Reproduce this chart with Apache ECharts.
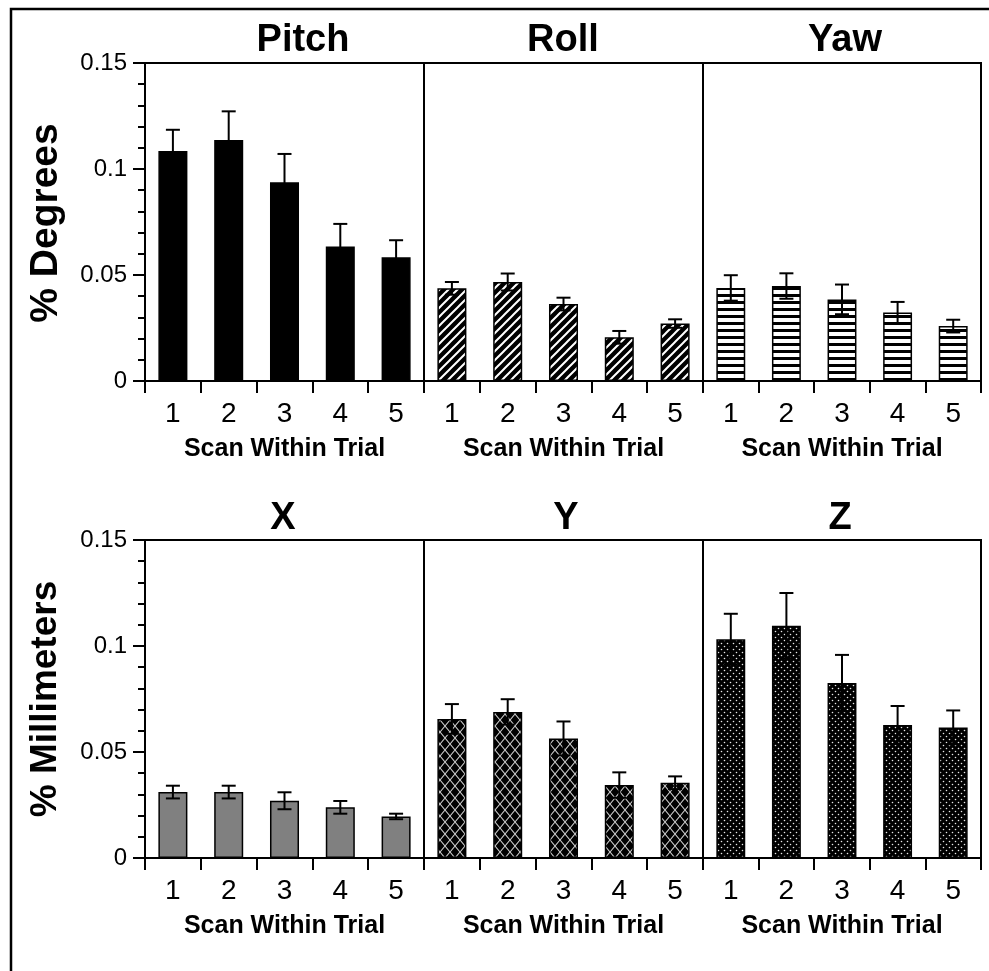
<!DOCTYPE html>
<html>
<head>
<meta charset="utf-8">
<script src="https://cdn.jsdelivr.net/npm/echarts@6/dist/echarts.min.js"></script>
<style>
    html, body { margin: 0; padding: 0; background: #fff; }
    #main { width: 989px; height: 971px; }
</style>
</head>
<body>
<div id="main"></div>
<script>
// 数据
var scans = ['1', '2', '3', '4', '5'];
var yTicks = [0, 0.05, 0.1, 0.15];

var pitchMean = [0.1085, 0.1137, 0.0937, 0.0635, 0.0584];
var pitchErr = [0.0100, 0.0135, 0.0134, 0.0106, 0.0080];
var rollMean = [0.0437, 0.0467, 0.0363, 0.0206, 0.0271];
var rollErr = [0.0030, 0.0040, 0.0030, 0.0030, 0.0020];
var yawMean = [0.0439, 0.0448, 0.0385, 0.0323, 0.0259];
var yawErr = [0.0060, 0.0060, 0.0070, 0.0050, 0.0030];
var xMean = [0.0311, 0.0311, 0.0270, 0.0239, 0.0196];
var xErr = [0.0030, 0.0030, 0.0040, 0.0030, 0.0013];
var yMean = [0.0656, 0.0689, 0.0564, 0.0344, 0.0355];
var yErr = [0.0070, 0.0060, 0.0080, 0.0060, 0.0030];
var zMean = [0.1032, 0.1095, 0.0825, 0.0627, 0.0616];
var zErr = [0.0120, 0.0155, 0.0133, 0.0090, 0.0080];

(function () {
    var FONT = '"Liberation Sans", Arial, Helvetica, sans-serif';

    // 小画布当填充图案
    function tile(w, h, draw) {
        var c = document.createElement('canvas');
        c.width = w;
        c.height = h;
        draw(c.getContext('2d'), w, h);
        return c;
    }
    // 斜线
    var hatch = tile(9, 9, function (ctx, w, h) {
        ctx.fillStyle = '#000';
        ctx.fillRect(0, 0, w, h);
        ctx.strokeStyle = '#fff';
        ctx.lineWidth = 2;
        ctx.beginPath();
        ctx.moveTo(-1, h + 1); ctx.lineTo(w + 1, -1);
        ctx.moveTo(-2, 2); ctx.lineTo(2, -2);
        ctx.moveTo(w - 2, h + 2); ctx.lineTo(w + 2, h - 2);
        ctx.stroke();
    });
    // 横线
    var stripes = tile(4, 7, function (ctx, w, h) {
        ctx.fillStyle = '#fff';
        ctx.fillRect(0, 0, w, h);
        ctx.fillStyle = '#000';
        ctx.fillRect(0, 0, w, 3);
    });
    // 网纹
    var weave = tile(10, 12, function (ctx, w, h) {
        ctx.fillStyle = '#000';
        ctx.fillRect(0, 0, w, h);
        ctx.strokeStyle = '#ccc';
        ctx.lineWidth = 1.1;
        ctx.beginPath();
        ctx.moveTo(0, 0); ctx.lineTo(w, h);
        ctx.moveTo(w, 0); ctx.lineTo(0, h);
        ctx.stroke();
    });
    // 点
    var dots = tile(6, 6, function (ctx, w, h) {
        ctx.fillStyle = '#000';
        ctx.fillRect(0, 0, w, h);
        ctx.fillStyle = '#e8e8e8';
        ctx.beginPath();
        ctx.arc(1.5, 1.5, 0.8, 0, Math.PI * 2);
        ctx.arc(4.5, 4.5, 0.8, 0, Math.PI * 2);
        ctx.fill();
    });

    var panels = [
        {name: 'Pitch', mean: pitchMean, err: pitchErr, fill: '#000', tx: 303},
        {name: 'Roll', mean: rollMean, err: rollErr, fill: {image: hatch, repeat: 'repeat'}, tx: 563},
        {name: 'Yaw', mean: yawMean, err: yawErr, fill: {image: stripes, repeat: 'repeat'}, tx: 845},
        {name: 'X', mean: xMean, err: xErr, fill: '#808080', tx: 283},
        {name: 'Y', mean: yMean, err: yErr, fill: {image: weave, repeat: 'repeat'}, tx: 566},
        {name: 'Z', mean: zMean, err: zErr, fill: {image: dots, repeat: 'repeat'}, tx: 840}
    ];
    var lefts = [145, 424, 703];
    var widths = [279, 279, 278];
    var tops = [63, 540];

    var grid = [], xAxis = [], yAxis = [], series = [];
    var graphic = [{
        type: 'rect', silent: true,
        shape: {x: 11, y: 9, width: 1100, height: 1100},
        style: {fill: null, stroke: '#000', lineWidth: 2.5}
    }];

    panels.forEach(function (p, i) {
        var col = i % 3, row = Math.floor(i / 3);
        var first = col === 0;
        grid.push({
            left: lefts[col], top: tops[row], width: widths[col], height: 318,
            show: true, borderColor: '#000', borderWidth: 2
        });
        xAxis.push({
            type: 'category', gridIndex: i, data: scans,
            axisLine: {lineStyle: {color: '#000', width: 2}},
            axisTick: {show: true, alignWithLabel: false, length: 12, lineStyle: {color: '#000', width: 2}},
            axisLabel: {color: '#000', fontSize: 28, fontFamily: FONT, margin: 19},
            name: 'Scan Within Trial', nameLocation: 'middle', nameGap: 56,
            nameTextStyle: {color: '#000', fontSize: 25, fontWeight: 'bold', fontFamily: FONT}
        });
        yAxis.push({
            type: 'value', gridIndex: i,
            min: yTicks[0], max: yTicks[yTicks.length - 1], interval: 0.05,
            splitLine: {show: false},
            axisLine: {show: true, lineStyle: {color: '#000', width: 2}},
            axisTick: {show: first, length: 12, lineStyle: {color: '#000', width: 2}},
            minorTick: {show: first, splitNumber: 5, length: 7, lineStyle: {color: '#000', width: 2}},
            axisLabel: {show: first, color: '#000', fontSize: 24, fontFamily: FONT, margin: 18}
        });
        series.push({
            type: 'bar', xAxisIndex: i, yAxisIndex: i,
            barWidth: '52%', data: p.mean,
            itemStyle: {color: p.fill, borderColor: '#000', borderWidth: 1.5}
        });
        // 误差线
        series.push({
            type: 'custom', xAxisIndex: i, yAxisIndex: i, z: 5,
            data: p.mean.map(function (v, k) { return [k, v, p.err[k]]; }),
            renderItem: function (params, api) {
                var k = api.value(0), v = api.value(1), e = api.value(2);
                var hi = api.coord([k, v + e]);
                var lo = api.coord([k, v - e]);
                var hw = 7;
                var st = {stroke: '#000', lineWidth: 2};
                return {
                    type: 'group',
                    children: [
                        {type: 'line', shape: {x1: hi[0], y1: hi[1], x2: lo[0], y2: lo[1]}, style: st},
                        {type: 'line', shape: {x1: hi[0] - hw, y1: hi[1], x2: hi[0] + hw, y2: hi[1]}, style: st},
                        {type: 'line', shape: {x1: lo[0] - hw, y1: lo[1], x2: lo[0] + hw, y2: lo[1]}, style: st}
                    ]
                };
            }
        });
        // 标题
        graphic.push({
            type: 'text', x: p.tx, y: row === 0 ? 41 : 519,
            style: {text: p.name, fill: '#000', fontSize: 38, fontWeight: 'bold', fontFamily: FONT,
                align: 'center', verticalAlign: 'middle'}
        });
    });

    // 纵轴名称
    graphic.push({
        type: 'text', x: 46, y: 223, rotation: Math.PI / 2,
        style: {text: '% Degrees', fill: '#000', fontSize: 39, fontWeight: 'bold', fontFamily: FONT,
            align: 'center', verticalAlign: 'middle'}
    });
    graphic.push({
        type: 'text', x: 46, y: 699, rotation: Math.PI / 2,
        style: {text: '% Millimeters', fill: '#000', fontSize: 37, fontWeight: 'bold', fontFamily: FONT,
            align: 'center', verticalAlign: 'middle'}
    });

    var myechart = echarts.init(document.getElementById('main'));
    myechart.setOption({
        animation: false,
        grid: grid,
        xAxis: xAxis,
        yAxis: yAxis,
        series: series,
        graphic: graphic
    });
})();
</script>
</body>
</html>
